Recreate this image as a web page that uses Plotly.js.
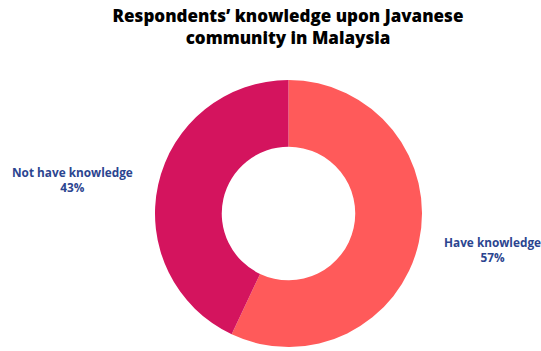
<!DOCTYPE html>
<html>
<head>
<meta charset="utf-8">
<script src="https://cdn.plot.ly/plotly-3.0.1.min.js"></script>
<style>html,body{margin:0;padding:0;background:#fff;}#chart{width:541px;height:351px;}</style>
</head>
<body>
<div id="chart"></div>
<script>
const titleText = "Respondents’ knowledge upon Javanese<br>community in Malaysia";
const categories = ["Have knowledge", "Not have knowledge"];
const percentages = [57, 43];
const sliceColors = ["#FF5A5A", "#D4145E"];

const labelColor = "#2B4590";
const labelPos = [
  {x: 492/541, y: (351-249.5)/351},
  {x: 72/541, y: (351-179.5)/351}
];

const annotations = categories.map((c, i) => ({
  text: "<b>" + c + "<br>" + percentages[i] + "%</b>",
  x: labelPos[i].x, y: labelPos[i].y,
  xref: "paper", yref: "paper",
  xanchor: "center", yanchor: "middle",
  showarrow: false, align: "center",
  font: {family: "Open Sans, sans-serif", size: 11.8, color: labelColor}
}));

const trace = {
  type: "pie",
  labels: categories,
  values: percentages,
  hole: 0.5,
  sort: false,
  direction: "clockwise",
  rotation: 0,
  marker: {colors: sliceColors, line: {width: 0}},
  textinfo: "none",
  hoverinfo: "label+percent",
  domain: {x: [155/541, 422/541], y: [4/351, 271/351]},
  showlegend: false
};

const layout = {
  width: 541, height: 351,
  margin: {l: 0, r: 0, t: 0, b: 0},
  paper_bgcolor: "#ffffff",
  plot_bgcolor: "#ffffff",
  title: {
    text: titleText,
    x: 288/541, xanchor: "center", xref: "container",
    y: 1 - 21.5/351, yanchor: "top", yref: "container",
    font: {family: "Open Sans, sans-serif", size: 17, weight: 800, color: "#000000"}
  },
  annotations: annotations,
  showlegend: false
};

Plotly.newPlot("chart", [trace], layout, {displayModeBar: false, staticPlot: true});
</script>
</body>
</html>
